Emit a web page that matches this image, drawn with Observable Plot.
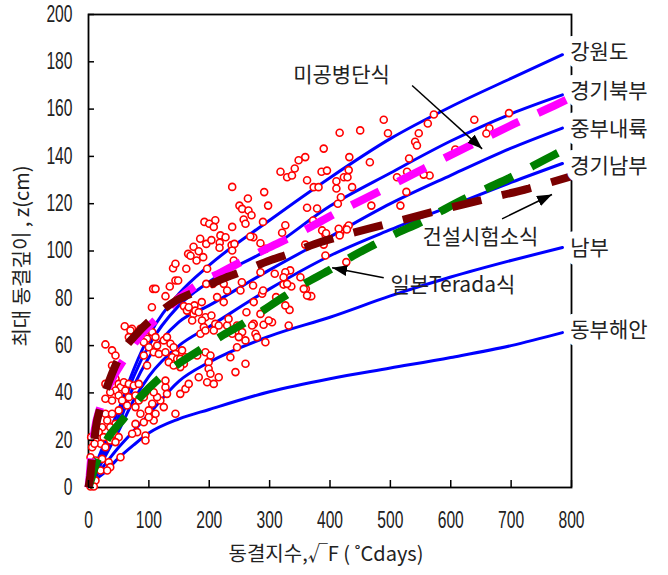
<!DOCTYPE html>
<html>
<head>
<meta charset="utf-8">
<script src="https://cdn.jsdelivr.net/npm/d3@7"></script>
<script src="https://cdn.jsdelivr.net/npm/@observablehq/plot@0.6"></script>
<style>
  html, body { margin: 0; padding: 0; background: #fff; }
  #chart { width: 668px; height: 575px; }
</style>
</head>
<body>
<div id="chart"></div>
<script>
// ---------- axes ----------
const xTicks = [0, 100, 200, 300, 400, 500, 600, 700, 800];
const yTicks = [0, 20, 40, 60, 80, 100, 120, 140, 160, 180, 200];
const xTitle = "동결지수,√F ( ˚Cdays)";
const yTitle = "최대 동결깊이 , z(cm)";

// ---------- regional curves (blue) ----------
const regionNames = ["강원도", "경기북부", "중부내륙", "경기남부", "남부", "동부해안"];
const curveX   = [0, 10, 25, 50, 75, 100, 150, 200, 300, 400, 500, 600, 700, 785];
const gangwon  = [0, 8, 18, 33, 50, 64, 82, 94, 113, 131, 147.5, 161, 173, 183];
const gyeonggiN= [0, 7, 16, 30, 47, 60, 77, 87, 101, 119, 133, 146.5, 158, 166];
const central  = [0, 6, 14, 27, 43, 55, 70, 77, 92, 106, 120, 132, 143.5, 152];
const gyeonggiS= [0, 5, 12, 24, 37, 47, 60, 68, 84, 98, 109, 119, 129, 137];
const south    = [0, 4, 9, 17, 24, 31, 45, 53, 64, 72, 81, 89, 96, 101.5];
const eastCoast= [0, 3, 6, 12.5, 18, 23, 29, 33, 40.5, 46, 50.5, 55, 60, 65.5];
const regionY = [gangwon, gyeonggiN, central, gyeonggiS, south, eastCoast];
const regionLabelX = 798;
const regionLabelY = [184, 167.4, 151.4, 135.7, 101.3, 66.4];

// ---------- formula curves (dashed) ----------
const usaceName = "미공병단식";
const usaceX = [0, 2, 3.5, 6, 10, 19.5, 30, 59.5, 85, 116, 150, 182.5, 220, 257, 295, 330.5, 370, 406, 480, 555, 628.5, 703, 777.5, 800];
const usaceY = [0, 5, 9.75, 16, 24, 34, 41, 54.5, 64, 72, 80, 86.1, 91, 96, 101, 105.3, 110.5, 115.5, 125, 134.8, 144.2, 153.5, 162.2, 165];

const kictName = "건설시험소식";
const kictX = [0, 3, 5, 8, 12, 20, 30, 54, 80, 112, 145, 182, 220, 258, 300, 335, 375, 417, 491, 570, 650, 729, 805];
const kictY = [0, 5, 10, 16, 25, 34, 42, 56.5, 65, 72.8, 79, 83.3, 88, 91.7, 96, 99, 103, 106.2, 111.2, 116.5, 121.5, 126.4, 132];

const teradaName = "일본Terada식";
const teradaX = [0, 5, 11, 20, 35, 57, 85, 116.5, 150, 185.5, 220, 256, 290, 327, 360, 398, 435, 474, 510, 548, 585, 621, 660, 697.5, 735, 770, 800];
const teradaY = [0, 4, 9, 15, 22, 28.8, 38, 46, 52.5, 58.3, 64, 69.3, 75, 81.2, 86.5, 91.8, 97.5, 102.8, 107.5, 111.9, 117, 121.8, 126.5, 130.9, 135.8, 140.5, 144.5];

// ---------- observed frost depths (red circles) ----------
const obsX = [
 416,450,489,496,572,562,547,541,544,639,664,659,696.5,432,466,531,431,423,429,410.6,410.6,436.6,527.6,511,565,555,418,413,526.5,468.5,516.6,607.6,428,417,
 389.6,359,348,318,329,337,341.6,386,395,362,373,381,238,291,264,250,254.5,265,270,297.5,362,378.6,372,210,192,200,207.5,238,257,260,289,273,326,320.7,185,174,195,203.6,218.5,217.4,227,237,217,359,389.6,392.4,165,182.6,
 60,72,91.6,105,107,111,127.5,134.6,144,148.5,147,152,140,144,162,169,179,190,158,163,175.5,174,187.6,196.5,195,206,216,224,213,224,229.6,238,240.6,254,251.7,272.6,273.7,284.8,287.6,289.2,308.5,310.7,323,336,334,333,351,360,366,369,387,393.5,392.4,427,414.4,416,431,428,284.8,293,268,241.7,261.6,284.8,273.7,290,304,331.6,229.6,193.7,
 28,39,39,44.7,69.5,66.8,86,94,97,91.6,105.5,111,100,108,91.6,97,113.7,124.7,130,116.5,127.5,135.8,141,144,138.6,146.9,133,141,155,160.6,152,158,166,171.7,177,182.6,188,191,185.4,193.7,203.6,210,207.5,215.7,180,193.7,202,199,182.6,196.5,207.5,215.7,199,202,232,246,254.5,238,249,260,246,243.4,235,260,271,276.5,279,298.5,293,326,323,329,326,356.5,362,
 28,36,44.7,50,53,58.5,66.8,75,83.3,61,44.7,36,50,66.8,28,39,55.7,64,50,28,39,31,44.7,36,22.6,17,25,42,50,36,11.6,20,6,28,44.7,3.3,11.6,22.6,33.6,20,11.6,3.3,8.8,77.8,83.3,91.6,94.4,77.8,86,105.5,99.8,119,113.7,127.5,108,77.8,91.6,80.6,94.4,72.3,94.4,108,99.8,111,124.7,130,144,152,160.6,166,152,127.5,53,36,31,4.4,10
];
const obsY = [
 150,151,155.5,149.8,157.7,153.9,149.8,146.2,144.6,155.5,151.9,149.7,158.3,139.7,137.5,139.1,134.2,131.2,131.2,129.5,126.4,127,133.5,131.2,131.9,132.3,122.7,120,125,119.2,119.2,142.9,109.8,107.7,
 143.3,139.7,138.4,133.5,131.2,131.9,134.9,133.5,134,129.9,127,127,127.1,124.9,122.2,119.2,117.8,117.1,115.1,119.2,118.3,118,112.9,113,112.3,111.5,110.2,110.2,113.3,111.5,112.3,105.8,110.9,107.7,105.2,101.8,103,104.6,106.6,103.5,105.8,102.5,101.4,102.7,102.7,107,98.8,99.9,
 68.2,67.1,67.1,76.2,84,84,80.9,85,87.5,87.5,79.5,80.5,92.7,94.6,92.5,98,96,97.4,76.7,74.8,77,73.4,78.4,92.5,86.1,86.1,87.5,86.1,80.5,78.4,83.3,100.2,96,86.8,83.3,85.4,78.4,91,81.9,83.3,90.4,80.5,85.8,85,91.8,75.1,88.9,84,80.9,80.9,108.7,107.5,98.1,95.3,109.4,106.6,110.8,109.1,103.3,100.9,106.1,103,74.1,73.4,69.2,68.8,69.9,68.5,68.5,72,
 60.5,58,51.6,55.8,66.4,63.6,67.1,66.4,62.9,61.4,65.7,63.6,59.3,57.2,55.8,51.6,60,62.2,63.6,56.5,57.2,60.8,59.3,56.5,55.1,54.4,53,51.6,58,55.1,54.4,52.3,76.2,70.6,74.8,74.1,70.6,67.8,65,66.4,72.7,69.2,66.4,68.5,55.8,57.2,55.8,53,46.6,44.5,43.8,46.6,50.2,48.1,71.3,68.5,65.7,65,63.6,62.2,59.3,48.8,55.1,52.3,68.5,65,63.6,70.6,61.4,91,88.9,86.1,77,84,81.2,
 43.8,44.5,46,43.8,42.4,44.5,43.8,43.1,43.8,41,41,40.3,38.9,38.2,37.5,36.8,36.8,34.7,32.6,31.2,31.2,28.3,26.9,25.5,25.5,23.4,21.3,22.7,21.3,19.9,19.9,18.5,17,17,19.2,12.8,11.4,12.1,10.7,7.2,3,0.4,0.4,38.9,36.8,38.2,40.3,34,31.2,35.4,32.6,36.8,38.2,42.4,40.3,26.9,27.6,23.4,22,22.7,19.9,28.3,29.7,31.2,34,39.6,31.2,39.6,41.7,43.8,50.9,45.2,12.8,8.6,7.2,21.3,18.5
];

// ---------- annotations ----------
const noteText = [usaceName, kictName, teradaName];
const noteX = [419, 649, 603.5];
const noteY = [174.2, 105.9, 85.4];
const arrowX1 = [536, 685, 489];
const arrowY1 = [170, 113.6, 88.7];
const arrowX2 = [652, 767.7, 403.5];
const arrowY2 = [143.2, 123.9, 92.9];

// ---------- tables built from the arrays ----------
const blueRows = regionNames.flatMap((r, i) => curveX.map((x, j) => ({region: r, x, y: regionY[i][j]})));
const obs = obsX.map((x, i) => ({x, y: obsY[i]}));
const usace = usaceX.map((x, i) => ({x, y: usaceY[i]}));
const kict = kictX.map((x, i) => ({x, y: kictY[i]}));
const terada = teradaX.map((x, i) => ({x, y: teradaY[i]}));
const idx3 = [0, 1, 2];

const korean = "'Noto Sans CJK KR', 'Noto Sans', sans-serif";
const dashStyle = {x: "x", y: "y", strokeWidth: 8, strokeLinecap: "butt", strokeLinejoin: "miter", curve: "monotone-x"};

const chart = Plot.plot({
  width: 668,
  height: 575,
  marginLeft: 88,
  marginRight: 97,
  marginTop: 14,
  marginBottom: 88,
  x: {domain: [0, 800]},
  y: {domain: [0, 200]},
  style: {fontFamily: "'Liberation Sans', Arial, sans-serif", color: "#222", background: "#fff", overflow: "visible"},
  marks: [
    Plot.frame({stroke: "#000", strokeWidth: 1.8}),
    Plot.line(blueRows, {x: "x", y: "y", z: "region", stroke: "#0000ff", strokeWidth: 3, curve: "monotone-x"}),
    Plot.dot(obs, {x: "x", y: "y", r: 3.5, stroke: "#ff0000", strokeWidth: 1.6, fill: "#fff"}),
    Plot.line(terada, {...dashStyle, stroke: "#008000", strokeDasharray: "30,21", strokeDashoffset: 0}),
    Plot.line(usace, {...dashStyle, stroke: "#ff00ff", strokeDasharray: "31,21", strokeDashoffset: 2}),
    Plot.line(kict, {...dashStyle, stroke: "#7a0000", strokeDasharray: "30,21", strokeDashoffset: 2}),
    Plot.tickY(yTicks, {y: d => d, insetRight: 477, stroke: "#000", strokeWidth: 1.5}),
    Plot.tickX(xTicks, {x: d => d, insetTop: 466, stroke: "#000", strokeWidth: 1.5}),
    Plot.axisY(yTicks, {tickSize: 0, tickPadding: 16, fontSize: 23, label: null, fill: "#222"}),
    Plot.axisX(xTicks, {tickSize: 0, tickPadding: 24, fontSize: 23, label: null, fill: "#222"}),
    Plot.text([xTitle], {frameAnchor: "bottom", textAnchor: "middle", dy: 73, dx: -4, fontSize: 20, fontFamily: korean, fill: "#222"}),
    Plot.text([yTitle], {frameAnchor: "left", textAnchor: "middle", dx: -66, dy: 5, rotate: -90, fontSize: 20, fontFamily: korean, fill: "#222"}),
    Plot.text(regionNames, {x: () => regionLabelX, y: (d, i) => regionLabelY[i], text: d => d, textAnchor: "start",
      fontSize: 21, fontFamily: korean, fill: "#222", stroke: "#fff", strokeWidth: 14}),
    Plot.link(idx3, {x1: i => arrowX1[i], y1: i => arrowY1[i], x2: i => arrowX2[i], y2: i => arrowY2[i], stroke: "#000", strokeWidth: 1.5}),
    Plot.text(idx3, {x: i => noteX[i], y: i => noteY[i], text: i => noteText[i], fontSize: 21, fontFamily: korean, fill: "#222"})
  ]
});

// filled arrowheads
const ns = "http://www.w3.org/2000/svg";
const defs = document.createElementNS(ns, "defs");
defs.innerHTML = '<marker id="ahead" viewBox="0 0 15 11" refX="15" refY="5.5" markerWidth="15" markerHeight="11" markerUnits="userSpaceOnUse" orient="auto"><path d="M0,0L15,5.5L0,11Z" fill="#000"/></marker>';
chart.prepend(defs);
chart.querySelectorAll('g[aria-label="link"] path').forEach(p => p.setAttribute("marker-end", "url(#ahead)"));

document.getElementById("chart").appendChild(chart);

// condensed tick numerals (squeeze glyphs, keep anchor)
chart.querySelectorAll('g[aria-label="x-axis tick label"] text, g[aria-label="y-axis tick label"] text').forEach(t => {
  const L = t.getComputedTextLength();
  if (L > 0) {
    t.setAttribute("textLength", (L * 0.68).toFixed(2));
    t.setAttribute("lengthAdjust", "spacingAndGlyphs");
  }
});
</script>
</body>
</html>
